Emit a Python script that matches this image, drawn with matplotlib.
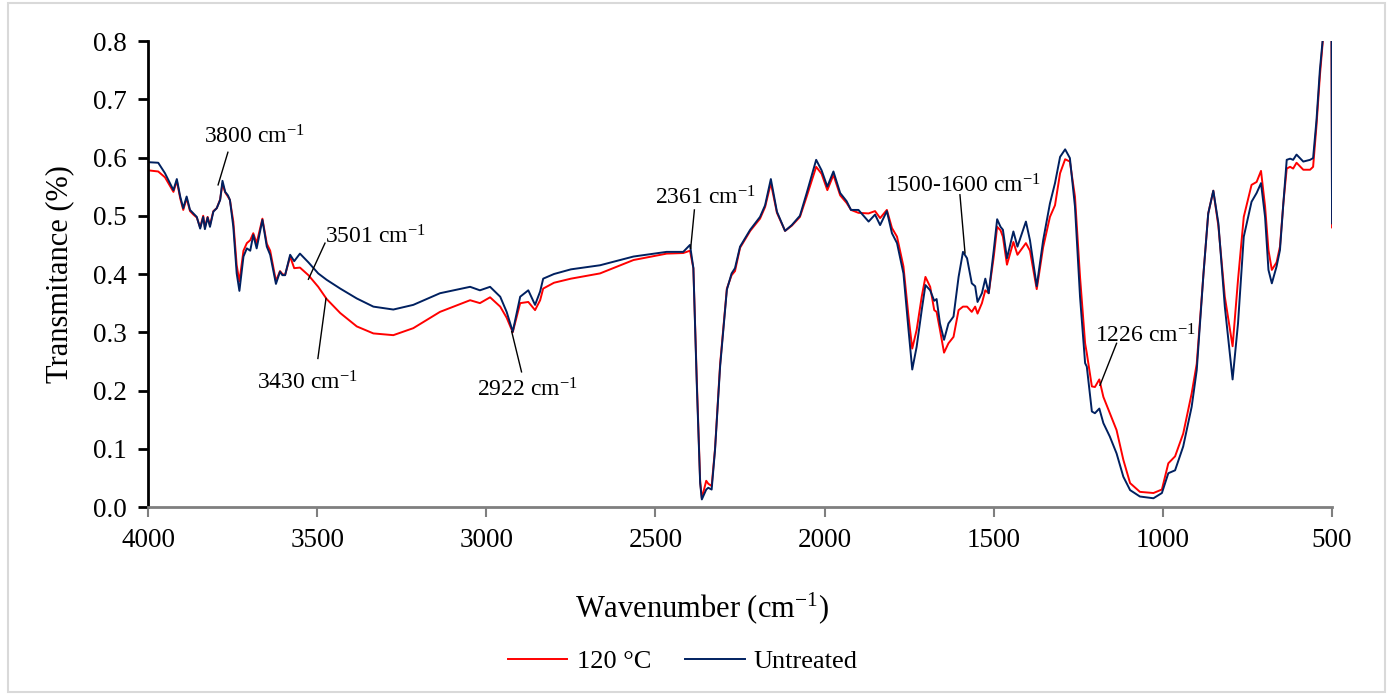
import matplotlib
matplotlib.use("Agg")
import matplotlib.pyplot as plt
from matplotlib.lines import Line2D
from matplotlib.patches import Rectangle

plt.rcParams['font.family'] = ['Liberation Serif', 'DejaVu Serif']
plt.rcParams['mathtext.fontset'] = 'custom'
plt.rcParams['mathtext.rm'] = 'Liberation Serif'
plt.rcParams['mathtext.it'] = 'Liberation Serif:italic'

# wavenumbers (cm-1) and transmittance
wavenumber = [
    4000, 3970, 3950, 3925, 3915, 3905, 3896, 3886, 3876, 3866, 3856, 3846, 3837, 3832,
    3824, 3817, 3807, 3797, 3787, 3780, 3772, 3764, 3758, 3748, 3738, 3730, 3718, 3708,
    3698, 3689, 3679, 3662, 3649, 3639, 3622, 3610, 3603, 3595, 3580, 3568, 3551, 3526,
    3497, 3472, 3432, 3383, 3334, 3275, 3216, 3137, 3048, 3019, 2989, 2959, 2940, 2922,
    2900, 2876, 2856, 2841, 2832, 2800, 2750, 2664, 2565, 2467, 2418, 2398, 2388, 2378,
    2368, 2363, 2350, 2344, 2334, 2324, 2309, 2289, 2275, 2265, 2250, 2220, 2191, 2176,
    2159, 2141, 2117, 2097, 2073, 2053, 2025, 2009, 1992, 1974, 1954, 1935, 1922, 1900,
    1870, 1851, 1836, 1816, 1801, 1786, 1767, 1752, 1741, 1728, 1713, 1702, 1688, 1676,
    1669, 1659, 1647, 1634, 1619, 1604, 1591, 1579, 1565, 1555, 1548, 1535, 1525, 1515,
    1500, 1490, 1480, 1473, 1461, 1442, 1430, 1405, 1393, 1373, 1354, 1334, 1319, 1304,
    1289, 1275, 1260, 1245, 1230, 1225, 1210, 1201, 1188, 1176, 1157, 1137, 1117, 1097,
    1068, 1028, 1003, 984, 964, 940, 915, 900, 880, 866, 851, 836, 817, 794,
    778, 761, 738, 723, 710, 698, 688, 678, 664, 654, 644, 634, 624, 615,
    605, 585, 565, 556, 546, 536, 528, 515, 502, 500,
]

untreated = [
    0.592, 0.591, 0.573, 0.544, 0.563, 0.533, 0.513, 0.533, 0.510, 0.504, 0.498, 0.478, 0.498, 0.477,
    0.497, 0.481, 0.507, 0.513, 0.527, 0.560, 0.541, 0.535, 0.527, 0.481, 0.401, 0.371, 0.430, 0.444,
    0.440, 0.467, 0.444, 0.493, 0.447, 0.433, 0.383, 0.404, 0.398, 0.398, 0.433, 0.422, 0.435, 0.420,
    0.401, 0.390, 0.375, 0.358, 0.344, 0.339, 0.347, 0.367, 0.378, 0.372, 0.378, 0.361, 0.335, 0.301,
    0.361, 0.372, 0.347, 0.370, 0.392, 0.400, 0.408, 0.415, 0.430, 0.438, 0.438, 0.450, 0.410, 0.212,
    0.041, 0.013, 0.030, 0.033, 0.030, 0.098, 0.241, 0.373, 0.401, 0.410, 0.447, 0.476, 0.498, 0.518,
    0.563, 0.507, 0.474, 0.484, 0.500, 0.539, 0.596, 0.578, 0.550, 0.576, 0.539, 0.525, 0.510, 0.510,
    0.490, 0.502, 0.484, 0.508, 0.470, 0.453, 0.401, 0.304, 0.236, 0.275, 0.338, 0.381, 0.372, 0.354,
    0.357, 0.315, 0.287, 0.315, 0.327, 0.395, 0.438, 0.427, 0.384, 0.379, 0.352, 0.367, 0.392, 0.367,
    0.441, 0.494, 0.481, 0.476, 0.427, 0.473, 0.447, 0.490, 0.458, 0.379, 0.458, 0.521, 0.556, 0.601,
    0.614, 0.599, 0.516, 0.361, 0.247, 0.241, 0.164, 0.161, 0.169, 0.144, 0.121, 0.092, 0.052, 0.029,
    0.018, 0.015, 0.024, 0.058, 0.063, 0.104, 0.172, 0.235, 0.401, 0.504, 0.543, 0.487, 0.344, 0.219,
    0.315, 0.464, 0.524, 0.539, 0.556, 0.498, 0.407, 0.384, 0.413, 0.441, 0.521, 0.596, 0.598, 0.596,
    0.605, 0.593, 0.596, 0.599, 0.664, 0.750, 0.800, 0.900, 0.900, 0.487,
]

treated_120 = [
    0.578, 0.576, 0.566, 0.541, 0.560, 0.530, 0.510, 0.530, 0.508, 0.502, 0.497, 0.480, 0.500, 0.480,
    0.498, 0.484, 0.508, 0.513, 0.528, 0.555, 0.540, 0.533, 0.527, 0.490, 0.415, 0.387, 0.440, 0.453,
    0.458, 0.470, 0.453, 0.495, 0.452, 0.440, 0.388, 0.405, 0.400, 0.398, 0.430, 0.410, 0.411, 0.398,
    0.378, 0.357, 0.333, 0.310, 0.298, 0.295, 0.307, 0.335, 0.355, 0.350, 0.360, 0.344, 0.325, 0.300,
    0.350, 0.352, 0.338, 0.355, 0.375, 0.385, 0.392, 0.401, 0.424, 0.435, 0.436, 0.440, 0.410, 0.220,
    0.045, 0.015, 0.045, 0.040, 0.036, 0.100, 0.245, 0.375, 0.398, 0.405, 0.445, 0.474, 0.495, 0.515,
    0.556, 0.505, 0.474, 0.483, 0.498, 0.533, 0.584, 0.572, 0.544, 0.570, 0.535, 0.522, 0.510, 0.505,
    0.504, 0.508, 0.496, 0.510, 0.479, 0.464, 0.413, 0.327, 0.272, 0.304, 0.361, 0.395, 0.378, 0.338,
    0.335, 0.304, 0.265, 0.281, 0.292, 0.338, 0.344, 0.344, 0.335, 0.344, 0.332, 0.350, 0.372, 0.367,
    0.430, 0.481, 0.475, 0.464, 0.416, 0.455, 0.433, 0.453, 0.440, 0.374, 0.446, 0.498, 0.518, 0.573,
    0.597, 0.593, 0.533, 0.395, 0.281, 0.264, 0.207, 0.206, 0.219, 0.189, 0.161, 0.132, 0.081, 0.041,
    0.026, 0.024, 0.030, 0.075, 0.087, 0.126, 0.195, 0.246, 0.401, 0.504, 0.543, 0.482, 0.361, 0.276,
    0.390, 0.498, 0.553, 0.558, 0.577, 0.516, 0.441, 0.407, 0.420, 0.447, 0.521, 0.581, 0.584, 0.581,
    0.591, 0.579, 0.579, 0.584, 0.655, 0.740, 0.795, 0.900, 0.900, 0.480,
]

x_ticks = [4000, 3500, 3000, 2500, 2000, 1500, 1000, 500]
y_ticks = [0.0, 0.1, 0.2, 0.3, 0.4, 0.5, 0.6, 0.7, 0.8]

# peak labels: text, text position, leader line (from, to)
peak_labels = ["3800 cm$^{-1}$", "3501 cm$^{-1}$", "3430 cm$^{-1}$", "2922 cm$^{-1}$",
               "2361 cm$^{-1}$", "1500-1600 cm$^{-1}$", "1226 cm$^{-1}$"]
label_pos = [(3687, 0.635), (3329, 0.464), (3530, 0.213), (2880, 0.201),
             (2353, 0.530), (1591, 0.551), (1053, 0.294)]
leader_from = [(3764, 0.609), (3477, 0.453), (3474, 0.358), (2925, 0.301),
               (2385, 0.510), (1600, 0.536), (1137, 0.281)]
leader_to = [(3793, 0.553), (3526, 0.391), (3498, 0.255), (2896, 0.232),
             (2396, 0.444), (1585, 0.436), (1186, 0.209)]

red = '#FF0000'
navy = '#002060'

fig = plt.figure(figsize=(13.89, 6.95), dpi=100)
ax = fig.add_axes([0.1066, 0.2705, 0.8524, 0.6705])

ax.plot(wavenumber, treated_120, color=red, lw=1.4)
ax.plot(wavenumber, untreated, color=navy, lw=1.4)

ax.set_xlim(4000, 500)
ax.set_ylim(0, 0.8)
ax.set_xticks(x_ticks)
ax.set_xticklabels([str(v) for v in x_ticks])
ax.set_yticks(y_ticks)
ax.set_yticklabels([f"{v:.1f}" for v in y_ticks])

for s in ['top', 'right']:
    ax.spines[s].set_visible(False)
ax.spines['left'].set_color('black')
ax.spines['left'].set_linewidth(2)
ax.spines['bottom'].set_color('#7f7f7f')
ax.spines['bottom'].set_linewidth(2)
ax.tick_params(axis='y', direction='out', length=7, width=2, color='black',
               labelsize=19.5, pad=8)
ax.tick_params(axis='x', direction='out', length=7, width=1.5, color='#7f7f7f',
               labelsize=19.5, pad=8)

ax.set_ylabel("Transmitance (%)", fontsize=22, labelpad=14)
fig.text(702 / 1389, 1 - 608 / 695, "Wavenumber (cm$^{-1}$)", fontsize=22,
         ha='center', va='center')

for txt, pos, p0, p1 in zip(peak_labels, label_pos, leader_from, leader_to):
    ax.text(pos[0], pos[1], txt, fontsize=17, ha='center', va='center')
    ax.plot([p0[0], p1[0]], [p0[1], p1[1]], color='black', lw=1)

handles = [Line2D([], [], color=red, lw=1.4), Line2D([], [], color=navy, lw=1.4)]
fig.legend(handles, ["120 °C", "Untreated"], loc='center',
           bbox_to_anchor=(683 / 1389, 1 - 661 / 695), ncol=2, frameon=False,
           fontsize=19, handlelength=2.25, handletextpad=0.35, columnspacing=1.3)

# light outer frame
fig.patches.append(Rectangle((0.006, 0.004), 0.991, 0.992, transform=fig.transFigure,
                             fill=False, edgecolor='#d9d9d9', lw=1.5))

fig.savefig("out.png", dpi=100)
